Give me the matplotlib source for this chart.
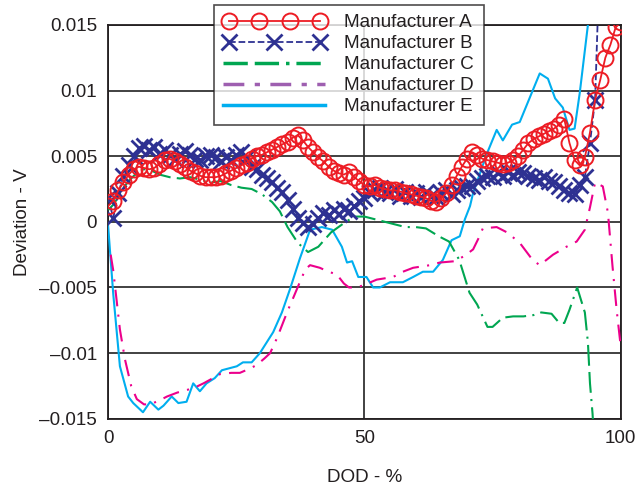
import matplotlib
matplotlib.use("Agg")
import matplotlib.pyplot as plt
from matplotlib.lines import Line2D
from matplotlib.legend_handler import HandlerLine2D
from matplotlib.ticker import FuncFormatter

plt.rcParams["font.family"] = ["Liberation Sans", "DejaVu Sans"]

labels = ["Manufacturer A", "Manufacturer B", "Manufacturer C", "Manufacturer D", "Manufacturer E"]

dod_a = list(range(0, 101))
dev_a = [0.0012, 0.0016, 0.0024, 0.0030, 0.0036, 0.0040, 0.0042, 0.0041, 0.0040, 0.0041,
         0.0044, 0.0047, 0.0048, 0.0046, 0.0044, 0.0042, 0.0039, 0.0037, 0.0035, 0.0034,
         0.0034, 0.0034, 0.0035, 0.0037, 0.0039, 0.0041, 0.0043, 0.0045, 0.0048, 0.0050,
         0.0051, 0.0053, 0.0055, 0.0057, 0.0059, 0.0061, 0.0064, 0.0066, 0.0062, 0.0057,
         0.0053, 0.0049, 0.0046, 0.0042, 0.0039, 0.0037, 0.0036, 0.0038, 0.0034, 0.0031,
         0.0028, 0.0027, 0.0028, 0.0026, 0.0025, 0.0024, 0.0024, 0.0023, 0.0022, 0.0021,
         0.0020, 0.0019, 0.0018, 0.0016, 0.0015, 0.0018, 0.0022, 0.0028, 0.0035, 0.0042,
         0.0048, 0.0053, 0.0051, 0.0048, 0.0047, 0.0046, 0.0045, 0.0044, 0.0045, 0.0047,
         0.0050, 0.0055, 0.0060, 0.0063, 0.0065, 0.0067, 0.0069, 0.0071, 0.0074, 0.0078,
         0.0060, 0.0047, 0.0043, 0.0049, 0.0068, 0.0093, 0.0108, 0.0125, 0.0135, 0.0148,
         0.0152]

dod_b = list(range(0, 96)) + [95.6]
dev_b = [0.0018, 0.0003, 0.0022, 0.0035, 0.0043, 0.0050, 0.0056, 0.0058, 0.0055, 0.0057,
         0.0052, 0.0055, 0.0051, 0.0048, 0.0052, 0.0054, 0.0051, 0.0048, 0.0047, 0.0050,
         0.0051, 0.0049, 0.0046, 0.0049, 0.0047, 0.0051, 0.0053, 0.0049, 0.0042, 0.0040,
         0.0036, 0.0033, 0.0030, 0.0026, 0.0023, 0.0017, 0.0010, 0.0003, -0.0001, -0.0004,
         -0.0002, 0.0003, 0.0007, 0.0005, 0.0009, 0.0006, 0.0010, 0.0008, 0.0012, 0.0016,
         0.0018, 0.0022, 0.0024, 0.0026, 0.0023, 0.0022, 0.0025, 0.0020, 0.0023, 0.0020,
         0.0022, 0.0019, 0.0023, 0.0020, 0.0019, 0.0022, 0.0024, 0.0021, 0.0024, 0.0026,
         0.0027, 0.0027, 0.0031, 0.0033, 0.0035, 0.0034, 0.0037, 0.0035, 0.0038, 0.0036,
         0.0038, 0.0037, 0.0035, 0.0033, 0.0032, 0.0034, 0.0031, 0.0030, 0.0027, 0.0024,
         0.0022, 0.0021, 0.0028, 0.0034, 0.0060, 0.0093, 0.0165]

dod_c = [0, 1, 2, 3, 4, 5, 6, 7, 8, 9, 10, 12, 14, 16, 18, 20, 22, 24, 26, 28, 30, 32, 33.5,
         35, 37, 39, 41, 43.5, 46, 48, 50, 52, 54, 56, 58, 60, 62, 64.5, 66.5, 68.5, 70.5,
         72, 74, 75, 77, 79, 81, 83, 84.5, 86.5, 88, 89, 90, 91.5, 93, 93.6, 94, 94.5, 95]
dev_c = [0.0009, 0.0013, 0.0019, 0.0026, 0.0031, 0.0035, 0.0038, 0.0040, 0.0040, 0.0038,
         0.0036, 0.0034, 0.0033, 0.0034, 0.0032, 0.0030, 0.0031, 0.0028, 0.0026, 0.0025,
         0.0021, 0.0015, 0.0008, -0.0004, -0.0016, -0.0023, -0.0019, -0.0008, -0.0001, 0.0004,
         0.0004, 0.0002, 0.0000, -0.0002, -0.0004, -0.0004, -0.0005, -0.0011, -0.0015, -0.0029,
         -0.0054, -0.0063, -0.0080, -0.0080, -0.0073, -0.0072, -0.0072, -0.0071, -0.0069, -0.0070,
         -0.0077, -0.0077, -0.0067, -0.0050, -0.0069, -0.0092, -0.0123, -0.0146, -0.0180]

dod_d = [0.5, 1, 2.3, 3.3, 4.5, 5.6, 7, 8.2, 10, 11.5, 13.5, 15.4, 17, 18.6, 20, 21.8, 24,
         25.7, 27.5, 29, 30.5, 31.6, 33, 34.1, 35, 36.1, 37.5, 38.5, 39.4, 41.3, 43, 44.6,
         46, 47, 48.5, 50, 52.4, 55.6, 57.5, 59.5, 62.8, 64.7, 67.6, 69.5, 71.2, 72.2, 73.1,
         75.8, 77.8, 80.3, 82.8, 84.2, 86.8, 89.4, 91.4, 93, 94, 95, 96.5, 97.5, 98.4, 99.2, 100]
dev_d = [-0.0025, -0.0037, -0.0082, -0.0105, -0.0125, -0.0135, -0.0139, -0.0139, -0.0136, -0.0133,
         -0.0130, -0.0128, -0.0126, -0.0123, -0.0120, -0.0116, -0.0115, -0.0115, -0.0112, -0.0109,
         -0.0104, -0.0100, -0.0088, -0.0077, -0.0068, -0.0058, -0.0045, -0.0036, -0.0033, -0.0035,
         -0.0038, -0.0040, -0.0047, -0.0050, -0.0050, -0.0048, -0.0044, -0.0042, -0.0038, -0.0035,
         -0.0033, -0.0031, -0.0030, -0.0026, -0.0021, -0.0013, -0.0005, -0.0004, -0.0008, -0.0016,
         -0.0029, -0.0033, -0.0025, -0.0019, -0.0015, -0.0006, 0.0011, 0.0030, 0.0027, 0.0007,
         -0.0034, -0.0067, -0.0095]

dod_e = [0, 1, 2.3, 3.9, 4.9, 6.8, 8.2, 9.8, 10.8, 12.4, 13.7, 15.3, 16.6, 17.9, 19.2, 20.8,
         22.2, 25.1, 26.3, 28, 29.6, 32.2, 33.9, 35.5, 37.4, 39.4, 41.7, 43.7, 45.6, 46.6, 47.6,
         48.8, 50.4, 51.7, 53, 55, 57.5, 59.5, 61.4, 63.4, 65.3, 67, 68.6, 69.6, 70.6, 71.2,
         73.9, 75.8, 77, 78.8, 80.3, 82.3, 84.2, 85.8, 87.2, 88.7, 90, 91, 92, 93.6, 94]
dev_e = [-0.0003, -0.0055, -0.0110, -0.0133, -0.0138, -0.0145, -0.0137, -0.0143, -0.0140, -0.0133,
         -0.0138, -0.0137, -0.0123, -0.0129, -0.0123, -0.0119, -0.0113, -0.0110, -0.0107, -0.0107,
         -0.0100, -0.0084, -0.0069, -0.0051, -0.0028, -0.0006, -0.0004, -0.0006, -0.0019, -0.0031,
         -0.0030, -0.0042, -0.0042, -0.0050, -0.0050, -0.0046, -0.0046, -0.0042, -0.0038, -0.0038,
         -0.0029, -0.0014, -0.0011, 0.0002, 0.0012, 0.0022, 0.0052, 0.0070, 0.0062, 0.0074,
         0.0076, 0.0095, 0.0113, 0.0109, 0.0094, 0.0087, 0.0070, 0.0071, 0.0098, 0.0150, 0.0160]

red = "#ed1c24"
navy = "#2e3192"
green = "#00a651"
magenta = "#ec008c"
purple = "#9e5fb0"
cyan = "#00aeef"
ink = "#231f20"
fs = 13.6

fig = plt.figure(figsize=(6.36, 4.87), dpi=100)
ax = fig.add_axes([0.170, 0.140, 0.806, 0.809])

ln_e, = ax.plot(dod_e, dev_e, color=cyan, lw=1.5, zorder=3)
ln_d, = ax.plot(dod_d, dev_d, color=magenta, lw=1.5, dashes=(8, 4, 1, 4), zorder=3)
ln_c, = ax.plot(dod_c, dev_c, color=green, lw=1.5, dashes=(10, 3, 10, 3, 1, 3), zorder=3)
ln_b, = ax.plot(dod_b, dev_b, color=navy, lw=1.3, ls="--", marker="x", ms=11, mew=2, zorder=4)
ln_a, = ax.plot(dod_a, dev_a, color=red, lw=1.3, marker="o", ms=11.5, mfc="none", mew=1.4, zorder=5)

ax.set_xlim(0, 100)
ax.set_ylim(-0.015, 0.015)
ax.set_xticks([0, 50, 100])
ax.set_yticks([-0.015, -0.01, -0.005, 0, 0.005, 0.01, 0.015])
ax.yaxis.set_major_formatter(FuncFormatter(lambda v, p: ("%g" % round(v, 4)).replace("-", "\u2013")))
ax.tick_params(length=0, labelsize=fs, colors=ink, pad=8)
ax.grid(True, color="#333333", lw=1.3)
for s in ax.spines.values():
    s.set_color(ink)
    s.set_linewidth(1.3)

ax.set_xlabel("DOD - %", fontsize=fs, color=ink, labelpad=16)
ax.set_ylabel("Deviation - V", fontsize=fs, color=ink, labelpad=6)

handles = [ln_a, ln_b,
           Line2D([], [], color=green, lw=2.5, dashes=(7, 2, 7, 2, 1, 2)),
           Line2D([], [], color=purple, lw=2.5, dashes=(6, 3, 1.5, 3)),
           Line2D([], [], color=cyan, lw=2.5)]
leg = ax.legend(handles, labels, loc="upper left", bbox_to_anchor=(0.2066, 1.051),
                borderaxespad=0, fontsize=fs, frameon=True, fancybox=False,
                handlelength=5.4, labelspacing=0.2, borderpad=0.5, handletextpad=1.0,
                handler_map={ln_a: HandlerLine2D(numpoints=4), ln_b: HandlerLine2D(numpoints=3)})
leg.get_frame().set_edgecolor(ink)
leg.get_frame().set_linewidth(1.2)
leg.set_zorder(10)
for t in leg.get_texts():
    t.set_color(ink)

fig.savefig("out.png", dpi=100)
